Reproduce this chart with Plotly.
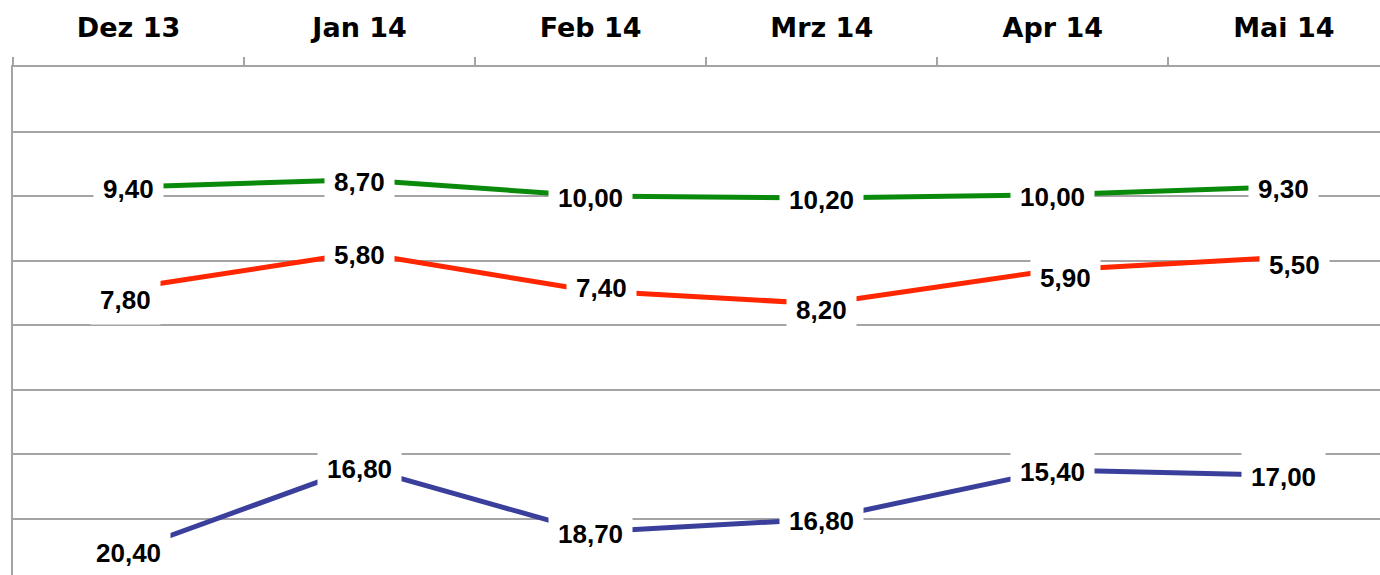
import plotly.graph_objects as go

# ---- data ----
months = ["Dez 13", "Jan 14", "Feb 14", "Mrz 14", "Apr 14", "Mai 14"]

green_y = [6.14, 6.25, 6.00, 5.97, 6.02, 6.14]
red_y = [4.57, 5.12, 4.53, 4.33, 4.85, 5.05]
blue_y = [0.50, 1.80, 0.79, 0.99, 1.75, 1.67]

green_labels = ["9,40", "8,70", "10,00", "10,20", "10,00", "9,30"]
red_labels = ["7,80", "5,80", "7,40", "8,20", "5,90", "5,50"]
blue_labels = ["20,40", "16,80", "18,70", "16,80", "15,40", "17,00"]

# ---- styling ----
GRID = "#a4a4a4"
series = [
    (green_y, green_labels, "#0a8a0a", [(0, 0)] * 6),
    (red_y, red_labels, "#ff2600", [(-3, -10), (0, 0), (11, 5), (0, -4), (13, -6), (11, -6)]),
    (blue_y, blue_labels, "#3a3f9c", [(0, 0)] * 6),
]

fig = go.Figure()
annotations = []
for ys, labels, color, shifts in series:
    fig.add_trace(go.Scatter(
        x=months, y=ys, mode="lines",
        line=dict(color=color, width=5),
        hoverinfo="skip", showlegend=False,
    ))
for ys, labels, color, shifts in series:
    for m, v, t, (dx, dy) in zip(months, ys, labels, shifts):
        annotations.append(dict(
            x=m, y=v, xref="x", yref="y", text=t, showarrow=False,
            xanchor="center", yanchor="middle",
            xshift=dx, yshift=dy - 2,
            bgcolor="white", borderpad=9,
            font=dict(family="Liberation Sans", size=26, color="black", weight="bold"),
        ))

fig.update_layout(
    width=1380, height=575,
    margin=dict(l=13, r=0, t=67, b=0),
    paper_bgcolor="white", plot_bgcolor="white",
    annotations=annotations,
    xaxis=dict(
        type="category", categoryorder="array", categoryarray=months,
        side="top", range=[-0.5, 5.416],
        tickson="boundaries", ticks="outside", ticklen=8,
        tickcolor=GRID, tickwidth=1.5,
        showline=True, linecolor=GRID, linewidth=1.5,
        showgrid=False, zeroline=False,
        ticklabelstandoff=17,
        tickfont=dict(family="DejaVu Sans", size=27, color="black", weight="bold"),
    ),
    yaxis=dict(
        range=[0.124, 8], tick0=0, dtick=1,
        showgrid=True, gridcolor=GRID, gridwidth=1.5,
        showticklabels=False, ticks="",
        showline=True, linecolor=GRID, linewidth=1.5,
        zeroline=False,
    ),
)

fig.write_html(
    "out.html",
    config={"displayModeBar": False},
    post_script=(
        "document.documentElement.style.overflow='hidden';"
        "document.body.style.overflow='hidden';"
        "document.body.style.margin='0';"
    ),
)
